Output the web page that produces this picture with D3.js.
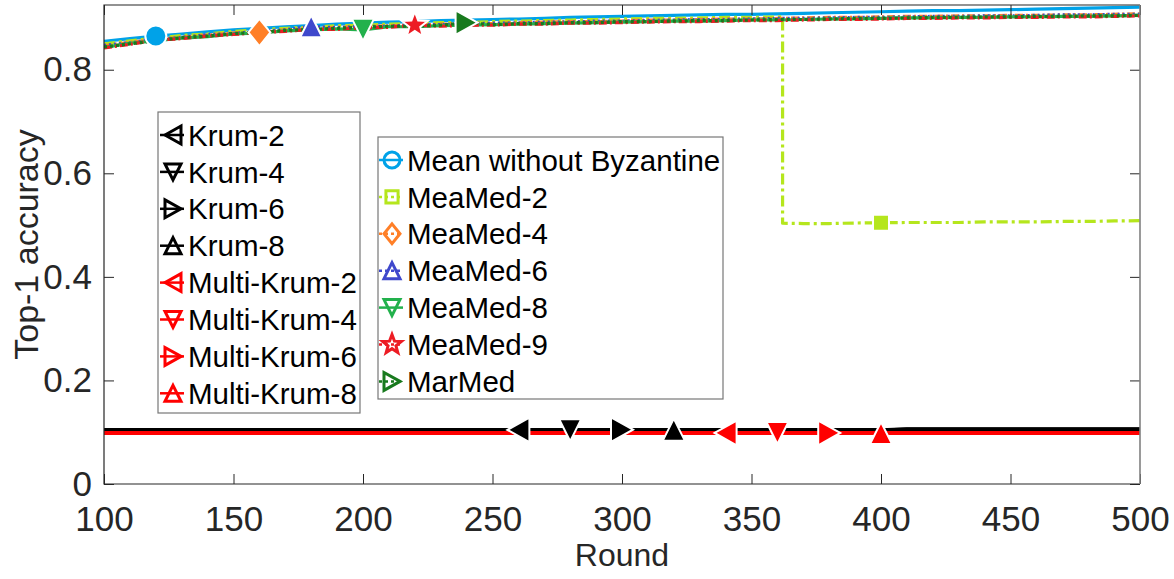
<!DOCTYPE html>
<html>
<head>
<meta charset="utf-8">
<script src="https://cdn.jsdelivr.net/npm/d3@7"></script>
<style>
  html, body { margin: 0; padding: 0; background: #fff; }
  svg { display: block; font-family: "Liberation Sans", Arial, Helvetica, sans-serif; }
</style>
</head>
<body>
<svg id="chart" width="1174" height="579"></svg>
<script>
// ---------------- data ----------------
const rounds = [100,110,120,130,140,150,160,170,180,190,200,210,220,230,240,250,260,270,280,290,300,
                310,320,330,340,350,360,370,380,390,400,410,420,430,440,450,460,470,480,490,500];

const meanNoByz = [0.855,0.860,0.865,0.869,0.873,0.877,0.880,0.883,0.885,0.888,0.890,0.892,0.893,0.895,0.896,0.897,0.898,0.899,0.901,0.902,0.903,
                   0.904,0.905,0.906,0.907,0.907,0.908,0.909,0.910,0.911,0.912,0.913,0.914,0.914,0.915,0.916,0.917,0.918,0.919,0.920,0.921];

const meaMed2Rounds = [100,110,120,130,140,150,160,170,180,190,200,210,220,230,240,250,260,270,280,290,300,
                       310,320,330,340,350,360,362,362,370,380,390,400,410,420,430,440,450,460,470,480,490,500];
const meaMed2 = [0.850,0.856,0.861,0.866,0.869,0.874,0.877,0.880,0.882,0.885,0.886,0.888,0.889,0.891,0.891,0.893,0.894,0.895,0.896,0.897,0.898,
                 0.899,0.899,0.900,0.901,0.901,0.902,0.902,0.5035,0.503,0.503,0.504,0.5045,0.505,0.505,0.505,0.506,0.506,0.506,0.507,0.507,0.508,0.5085];

const meaMed4 = [0.846,0.853,0.858,0.863,0.867,0.871,0.872,0.877,0.879,0.882,0.883,0.885,0.886,0.888,0.889,0.889,0.891,0.892,0.893,0.893,0.894,
                 0.896,0.896,0.897,0.898,0.898,0.899,0.900,0.901,0.901,0.902,0.903,0.903,0.904,0.904,0.905,0.905,0.906,0.906,0.907,0.908];

const meaMed6 = [0.847,0.852,0.859,0.862,0.868,0.870,0.875,0.877,0.884,0.881,0.884,0.884,0.887,0.887,0.889,0.890,0.890,0.892,0.892,0.894,0.894,
                 0.895,0.896,0.897,0.897,0.898,0.899,0.899,0.900,0.901,0.901,0.902,0.903,0.903,0.904,0.904,0.905,0.906,0.906,0.907,0.907];

const meaMed8 = [0.843,0.851,0.856,0.861,0.864,0.869,0.871,0.875,0.877,0.879,0.877,0.883,0.883,0.885,0.886,0.887,0.888,0.889,0.890,0.891,0.892,
                 0.893,0.894,0.894,0.895,0.896,0.896,0.897,0.898,0.898,0.899,0.900,0.900,0.901,0.901,0.902,0.902,0.903,0.903,0.904,0.905];

const meaMed9 = [0.842,0.849,0.857,0.860,0.865,0.868,0.872,0.874,0.878,0.878,0.881,0.882,0.886,0.884,0.886,0.886,0.888,0.888,0.890,0.890,0.891,
                 0.892,0.893,0.893,0.894,0.895,0.895,0.896,0.897,0.897,0.898,0.899,0.899,0.900,0.900,0.901,0.901,0.902,0.902,0.903,0.904];

const marMed = [0.844,0.850,0.856,0.862,0.865,0.870,0.872,0.876,0.878,0.880,0.882,0.884,0.884,0.886,0.891,0.887,0.889,0.889,0.891,0.891,0.893,
                0.893,0.894,0.895,0.895,0.896,0.897,0.897,0.898,0.899,0.899,0.900,0.901,0.901,0.902,0.902,0.903,0.903,0.904,0.904,0.905];

const flatRounds = [100,200,300,400,410,500];
const krum2 = [0.1045,0.1045,0.1045,0.1045,0.1060,0.1060];
const krum4 = [0.1040,0.1040,0.1040,0.1040,0.1058,0.1058];
const krum6 = [0.1050,0.1050,0.1050,0.1050,0.1050,0.1050];
const krum8 = [0.1050,0.1050,0.1050,0.1050,0.1050,0.1050];
const multiKrum2 = [0.0985,0.0985,0.0985,0.0985,0.0985,0.0985];
const multiKrum4 = [0.0985,0.0985,0.0985,0.0985,0.0985,0.0985];
const multiKrum6 = [0.0985,0.0985,0.0985,0.0985,0.0985,0.0985];
const multiKrum8 = [0.0985,0.0985,0.0985,0.0985,0.0985,0.0985];

const xTicks = [100,150,200,250,300,350,400,450,500];
const yTicks = [0,0.2,0.4,0.6,0.8];
const xLabel = "Round";
const yLabel = "Top-1 accuracy";

// series: name, x, y, colour, dash, marker, markerRound
const bottomSeries = [
  {name:"Krum-2", xs:flatRounds, ys:krum2, color:"#000000", dash:null, marker:"left", mx:260},
  {name:"Krum-4", xs:flatRounds, ys:krum4, color:"#000000", dash:null, marker:"down", mx:280},
  {name:"Krum-6", xs:flatRounds, ys:krum6, color:"#000000", dash:null, marker:"right", mx:300},
  {name:"Krum-8", xs:flatRounds, ys:krum8, color:"#000000", dash:null, marker:"up", mx:320},
  {name:"Multi-Krum-2", xs:flatRounds, ys:multiKrum2, color:"#ff0000", dash:null, marker:"left", mx:340},
  {name:"Multi-Krum-4", xs:flatRounds, ys:multiKrum4, color:"#ff0000", dash:null, marker:"down", mx:360},
  {name:"Multi-Krum-6", xs:flatRounds, ys:multiKrum6, color:"#ff0000", dash:null, marker:"right", mx:380},
  {name:"Multi-Krum-8", xs:flatRounds, ys:multiKrum8, color:"#ff0000", dash:null, marker:"up", mx:400}
];
const topSeries = [
  {name:"Mean without Byzantine", xs:rounds, ys:meanNoByz, color:"#00a2e8", dash:null, marker:"circle", mx:120},
  {name:"MeaMed-2", xs:meaMed2Rounds, ys:meaMed2, color:"#b5e61d", dash:"11,4,3,4", marker:"square", mx:400},
  {name:"MeaMed-4", xs:rounds, ys:meaMed4, color:"#ff7f27", dash:"8,3,2,3", marker:"diamond", mx:160},
  {name:"MeaMed-6", xs:rounds, ys:meaMed6, color:"#3f48cc", dash:"2,3", marker:"up", mx:180},
  {name:"MeaMed-8", xs:rounds, ys:meaMed8, color:"#22b14c", dash:null, marker:"down", mx:200},
  {name:"MeaMed-9", xs:rounds, ys:meaMed9, color:"#ed1c24", dash:"8,3,2,3", marker:"star", mx:220},
  {name:"MarMed", xs:rounds, ys:marMed, color:"#187a1e", dash:"3,3", marker:"right", mx:240}
];

// ---------------- layout ----------------
const M = {left:104, right:1140, top:5, bottom:484};
const svg = d3.select("#chart");
svg.append("rect").attr("width",1174).attr("height",579).attr("fill","#fff");

const x = d3.scaleLinear().domain([100,500]).range([M.left, M.right]);
const y = d3.scaleLinear().domain([0,0.925]).range([M.bottom, M.top]);
const axisColor = "#262626";

// ---------------- markers ----------------
function markerPath(type, s) {
  const h = s/2;
  switch(type) {
    case "circle": return `M${-h},0A${h},${h} 0 1 0 ${h},0A${h},${h} 0 1 0 ${-h},0Z`;
    case "square": { const q = s*0.38; return `M${-q},${-q}L${q},${-q}L${q},${q}L${-q},${q}Z`; }
    case "diamond": { const w = s*0.5, t = s*0.62; return `M0,${-t}L${w},0L0,${t}L${-w},0Z`; }
    case "up": return `M0,${-h}L${h},${h}L${-h},${h}Z`;
    case "down": return `M0,${h}L${h},${-h}L${-h},${-h}Z`;
    case "left": { const w = s*0.5; return `M${-w},0L${w},${-h*1.12}L${w},${h*1.12}Z`; }
    case "right": { const w = s*0.5; return `M${w},0L${-w},${-h*1.12}L${-w},${h*1.12}Z`; }
    case "star": {
      const R = s*0.62, r = R*0.42; let p = "";
      for (let i=0;i<10;i++){ const a = -Math.PI/2 + i*Math.PI/5; const rr = i%2? r : R;
        p += (i?"L":"M") + (rr*Math.cos(a)).toFixed(2) + "," + (rr*Math.sin(a)).toFixed(2); }
      return p+"Z";
    }
  }
}

// ---------------- lines ----------------
const line = d3.line().x(d=>x(d[0])).y(d=>y(d[1]));
const plot = svg.append("g");
plot.append("defs").append("clipPath").attr("id","clip")
  .append("rect").attr("x",M.left).attr("y",M.top).attr("width",M.right-M.left).attr("height",M.bottom-M.top);
const lines = plot.append("g").attr("clip-path","url(#clip)");

function drawLine(s, w) {
  const pts = s.xs.map((v,i)=>[v, s.ys[i]]);
  lines.append("path").attr("d", line(pts)).attr("fill","none")
    .attr("stroke", s.color).attr("stroke-width", w)
    .attr("stroke-dasharray", s.dash).attr("stroke-linejoin","round");
}
bottomSeries.forEach(s=>drawLine(s, 3.5));
topSeries.forEach(s=>drawLine(s, 3.2));

// markers on top
const markerSize = {circle:21, square:21, diamond:22, up:22, down:22, left:22, right:22, star:22};
function markerY(s) {
  const i = s.xs.lastIndexOf(s.mx);
  if (i >= 0) return s.ys[i];
  return d3.scaleLinear().domain(s.xs).range(s.ys)(s.mx);
}
[...bottomSeries, ...topSeries].forEach(s=>{
  plot.append("path").attr("d", markerPath(s.marker, markerSize[s.marker]))
    .attr("transform", `translate(${x(s.mx)},${y(markerY(s))})`)
    .attr("fill", s.color).attr("stroke","#fff").attr("stroke-width",2);
});

// ---------------- axes ----------------
const fontTick = 35;
const gx = svg.append("g").attr("transform",`translate(0,${M.bottom})`)
  .call(d3.axisBottom(x).tickValues(xTicks).tickSizeInner(-10).tickSizeOuter(0).tickPadding(22).tickFormat(d3.format("d")));
const gxt = svg.append("g").attr("transform",`translate(0,${M.top})`)
  .call(d3.axisTop(x).tickValues(xTicks).tickSizeInner(-10).tickSizeOuter(0).tickFormat(""));
const gy = svg.append("g").attr("transform",`translate(${M.left},0)`)
  .call(d3.axisLeft(y).tickValues(yTicks).tickSizeInner(-10).tickSizeOuter(0).tickPadding(12).tickFormat(d=>d===0?"0":d3.format(".1f")(d)));
const gyr = svg.append("g").attr("transform",`translate(${M.right},0)`)
  .call(d3.axisRight(y).tickValues(yTicks).tickSizeInner(-10).tickSizeOuter(0).tickFormat(""));
[gx,gxt,gy,gyr].forEach(g=>{
  g.select(".domain").remove();
  g.selectAll(".tick line").attr("stroke",axisColor).attr("stroke-width",1);
  g.selectAll(".tick text").attr("fill",axisColor).attr("font-size",fontTick)
    .attr("font-family","'Liberation Sans', Arial, sans-serif");
});
svg.append("path")
  .attr("d",`M${M.right},${M.top}H${M.left}V${M.bottom}H${M.right}`)
  .attr("fill","none").attr("stroke",axisColor).attr("stroke-width",1.2);
svg.append("line").attr("x1",M.right).attr("x2",M.right).attr("y1",M.top).attr("y2",M.bottom)
  .attr("stroke","#808080").attr("stroke-width",1.6);

svg.append("text").attr("x",(M.left+M.right)/2).attr("y",566).attr("text-anchor","middle")
  .attr("font-size",32).attr("fill",axisColor).text(xLabel);
svg.append("text").attr("transform",`translate(38,${(M.top+M.bottom)/2}) rotate(-90)`).attr("text-anchor","middle")
  .attr("font-size",34).attr("fill",axisColor).text(yLabel);

// ---------------- legends ----------------
function legend(series, box, x0, y0, textX) {
  const g = svg.append("g");
  g.append("rect").attr("x",box[0]).attr("y",box[1]).attr("width",box[2]-box[0]).attr("height",box[3]-box[1])
    .attr("fill","#fff").attr("stroke","#777").attr("stroke-width",1.2);
  series.forEach((s,i)=>{
    const cy = y0 + i*36.9;
    g.append("line").attr("x1",x0-13).attr("x2",x0+11).attr("y1",cy).attr("y2",cy)
      .attr("stroke",s.color).attr("stroke-width",2.5).attr("stroke-dasharray", s.dash ? "3,3" : null);
    g.append("path").attr("d", markerPath(s.marker, 16)).attr("transform",`translate(${x0},${cy})`)
      .attr("fill","none").attr("stroke",s.color).attr("stroke-width",3);
    g.append("text").attr("x",textX).attr("y",cy).attr("dy","0.36em").attr("font-size",29.5)
      .attr("fill","#000").text(s.name);
  });
}
legend(bottomSeries, [158,112,360,413], 173, 135, 188);
legend(topSeries, [378,137,723,399], 392, 160, 407);
</script>
</body>
</html>
